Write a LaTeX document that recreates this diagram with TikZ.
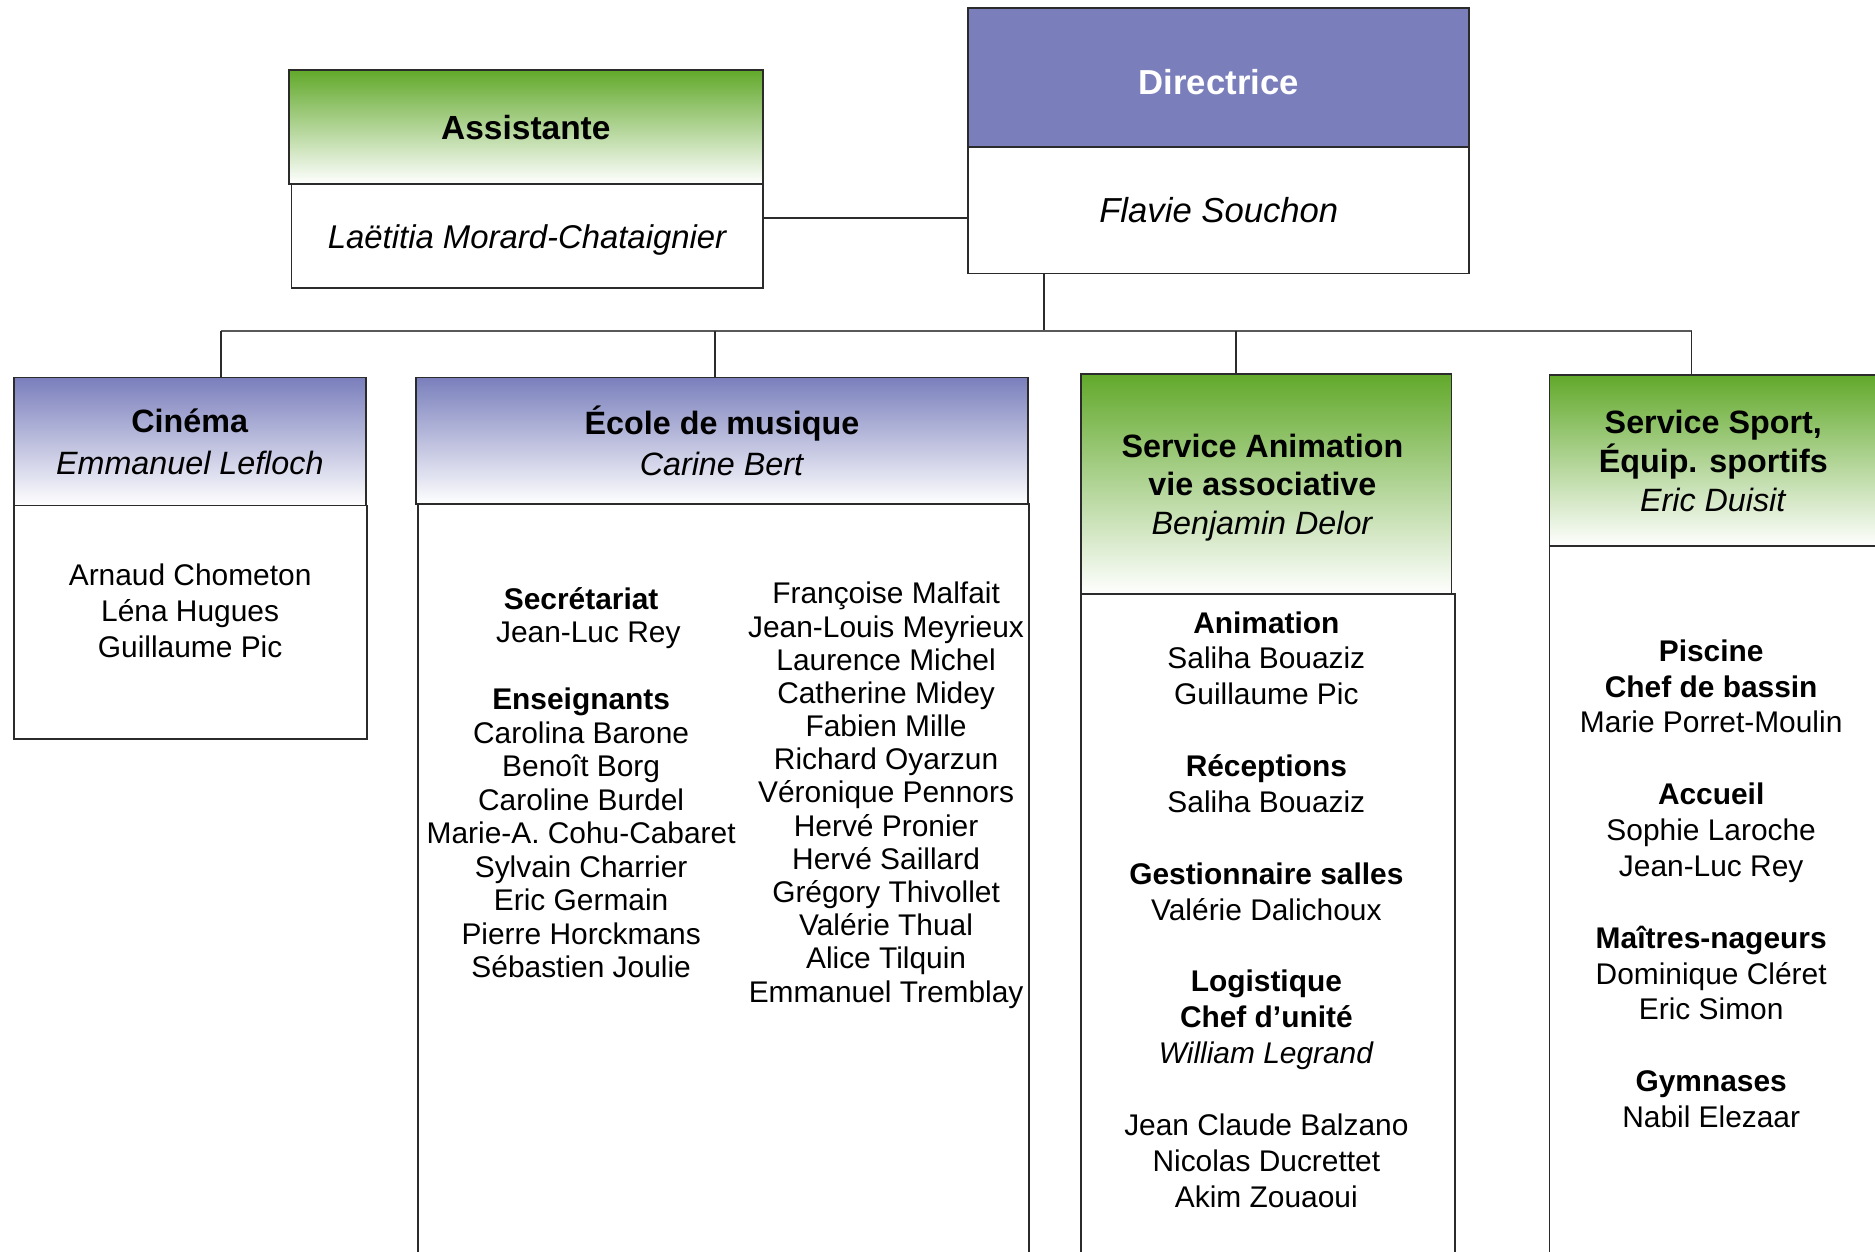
\documentclass[tikz,border=0pt]{standalone}
\usepackage{fontspec}
\setmainfont{Liberation Sans}
\usetikzlibrary{calc}
\definecolor{hdrpurple}{HTML}{7A7FBC}
\definecolor{hdrgreen}{HTML}{62A92B}
\definecolor{linegray}{HTML}{2B2B2B}
\begin{document}
\begin{tikzpicture}[x=1pt,y=-1pt,
  box/.style={draw=linegray, line width=1.5pt, inner sep=0pt, anchor=north west, align=center},
  greenhdr/.style={box, top color=hdrgreen, middle color=hdrgreen!45, bottom color=white},
  purplehdr/.style={box, top color=hdrpurple, middle color=hdrpurple!50, bottom color=white},
  bodybox/.style={box, fill=white},
  title/.style={font=\fontsize{27}{35}\selectfont},
  lbl/.style={align=center, inner sep=0pt},
  bodytext/.style={align=center, inner sep=0pt, font=\fontsize{25}{30}\selectfont},
  conn/.style={draw=linegray, line width=1.5pt},
  busline/.style={draw=black!65, line width=1.6pt}
]
\useasboundingbox (0,0) rectangle (1568,1047);
\clip (0,0) rectangle (1568,1047);

% Assistante
\node[bodybox, minimum width=394pt, minimum height=87pt] (ab) at (243,153) {};
\node[lbl, font=\fontsize{27.5}{33}\selectfont\itshape] (abt) at ($(ab.center)+(0,3.5)$) {La\"etitia Morard-Chataignier};
\node[greenhdr, minimum width=396pt, minimum height=95pt, font=\fontsize{28}{33}\selectfont\bfseries] (ah) at (241,58) {Assistante};

% Directrice
\node[bodybox, minimum width=419pt, minimum height=106pt, font=\fontsize{29}{34}\selectfont\itshape] (db) at (809,122) {Flavie Souchon};
\node[box, fill=hdrpurple, minimum width=419pt, minimum height=116pt] (dh) at (809,6) {};
\node[lbl, text=white, font=\fontsize{29}{34}\selectfont\bfseries] (dht) at ($(dh.center)+(0,4)$) {Directrice};

% Cinema
\node[bodybox, minimum width=295pt, minimum height=195pt] (cb) at (11,422) {};
\node[purplehdr, minimum width=294pt, minimum height=107pt, title] (ch) at (11,315) {\textbf{Cinéma}\\\textit{Emmanuel Lefloch}};

% Ecole de musique
\node[bodybox, minimum width=511pt, minimum height=640pt] (eb) at (349,421) {};
\node[purplehdr, minimum width=512pt, minimum height=106pt, font=\fontsize{27}{34}\selectfont] (eh) at (347,315) {\textbf{École de musique}\\\textit{Carine Bert}};

% Service Animation
\node[bodybox, minimum width=313pt, minimum height=565pt] (sab) at (903,496) {};
\node[greenhdr, minimum width=310pt, minimum height=184pt] (sah) at (903,312) {};
\node[lbl, font=\fontsize{27}{32.5}\selectfont] (saht) at ($(sah.center)+(-3,3)$) {\textbf{Service Animation}\\\textbf{vie associative}\\\textit{Benjamin Delor}};

% Service Sport
\node[bodybox, minimum width=274pt, minimum height=605pt] (ssb) at (1295,456) {};
\node[greenhdr, minimum width=274pt, minimum height=143pt, font=\fontsize{27}{32.5}\selectfont] (ssh) at (1295,313) {\textbf{Service Sport,}\\\textbf{Équip. sportifs}\\\textit{Eric Duisit}};

% body texts
\node[bodytext] (ct) at (159,511) {Arnaud Chometon\\Léna Hugues\\Guillaume Pic};

\node[bodytext, font=\fontsize{25}{28}\selectfont] (el) at (486,654.5) {\textbf{Secrétariat}\\\hspace*{12pt}Jean-Luc Rey\\[28pt]
\textbf{Enseignants}\\Carolina Barone\\Benoît Borg\\Caroline Burdel\\Marie-A. Cohu-Cabaret\\Sylvain Charrier\\Eric Germain\\Pierre Horckmans\\Sébastien Joulie};

\node[bodytext, font=\fontsize{25}{27.75}\selectfont] (er) at (741,665) {Françoise Malfait\\Jean-Louis Meyrieux\\Laurence Michel\\Catherine Midey\\Fabien Mille\\Richard Oyarzun\\Véronique Pennors\\Hervé Pronier\\Hervé Saillard\\Grégory Thivollet\\Valérie Thual\\Alice Tilquin\\Emmanuel Tremblay};

\node[bodytext] (sat) at (1059,760.5) {\textbf{Animation}\\Saliha Bouaziz\\Guillaume Pic\\[30pt]
\textbf{Réceptions}\\Saliha Bouaziz\\[30pt]
\textbf{Gestionnaire salles}\\Valérie Dalichoux\\[30pt]
\textbf{Logistique}\\\textbf{Chef d’unité}\\\textit{William Legrand}\\[30pt]
Jean Claude Balzano\\Nicolas Ducrettet\\Akim Zouaoui};

\node[bodytext] (sst) at (1431,739) {\textbf{Piscine}\\\textbf{Chef de bassin}\\Marie Porret-Moulin\\[30pt]
\textbf{Accueil}\\Sophie Laroche\\Jean-Luc Rey\\[30pt]
\textbf{Maîtres-nageurs}\\Dominique Cléret\\Eric Simon\\[30pt]
\textbf{Gymnases}\\Nabil Elezaar};

% connectors
\coordinate (aj) at ($(ab.north east)!0.333!(ab.south east)$);
\draw[conn] (aj) -- (aj -| db.west);

\coordinate (dj) at ($(db.south west)!0.153!(db.south east)$);
\coordinate (busy) at (0,277);
\draw[conn] (dj) -- (dj |- busy);

\coordinate (c1) at ($(ch.north west)!0.588!(ch.north east)$);
\coordinate (e1) at ($(eh.north west)!0.488!(eh.north east)$);
\coordinate (s1) at ($(sah.north west)!0.419!(sah.north east)$);
\coordinate (p1) at ($(ssh.north west)!0.434!(ssh.north east)$);

\draw[busline] (c1 |- busy) -- (p1 |- busy);
\draw[conn] (c1 |- busy) -- (c1);
\draw[conn] (e1 |- busy) -- (e1);
\draw[conn] (s1 |- busy) -- (s1);
\draw[conn] (p1 |- busy) -- (p1);
\end{tikzpicture}
\end{document}
